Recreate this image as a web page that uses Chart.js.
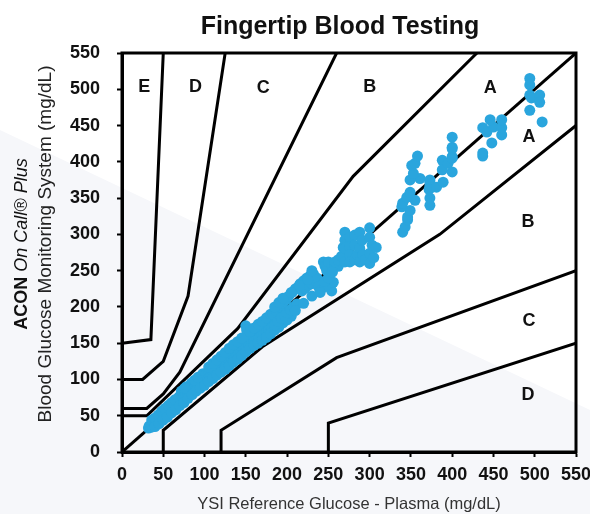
<!DOCTYPE html>
<html>
<head>
<meta charset="utf-8">
<script src="https://cdn.jsdelivr.net/npm/chart.js@4.4.1/dist/chart.umd.min.js"></script>
<style>
  body { margin: 0; background: #fff; }
  #wrap { width: 590px; height: 514px; position: relative; }
</style>
</head>
<body>
<div id="wrap"><canvas id="grid"></canvas></div>
<script>
// tick labels
const ticks = [0, 50, 100, 150, 200, 250, 300, 350, 400, 450, 500, 550];

// zone boundaries (reference, meter) in mg/dL
const identity = [[0, 0], [550, 550]];
const aUpper = [[0, 50], [30, 50], [140, 170], [280, 380], [430, 550]];
const aLower = [[50, 0], [50, 30], [170, 145], [385, 300], [550, 450]];
const bUpper = [[0, 60], [30, 60], [50, 80], [70, 110], [260, 550]];
const bLower = [[120, 0], [120, 30], [260, 130], [550, 250]];
const cUpper = [[0, 100], [25, 100], [50, 125], [80, 215], [125, 550]];
const cLower = [[250, 0], [250, 40], [550, 150]];
const dUpper = [[0, 150], [35, 155], [50, 550]];

// zone letters
const zoneNames = ['E', 'D', 'C', 'B', 'A', 'A', 'B', 'C', 'D'];
const zoneSpots = [[27, 503], [89, 503], [171, 502], [300, 503], [446, 502], [493, 434], [492, 317], [493, 180], [492, 79]];

// measured pairs: YSI reference, meter reading
const readings = [
  [32,33],[33,36],[35,34],[36,38],[37,35],[38,41],[40,39],[41,43],[42,40],[44,46],
  [45,43],[46,49],[48,46],[49,52],[50,49],[52,55],[53,51],[54,57],[56,54],[57,60],
  [58,56],[60,63],[61,59],[62,66],[64,62],[65,69],[66,65],[67,72],[68,67],[69,76],
  [70,71],[72,79],[72,84],[73,74],[74,82],[75,77],[76,84],[77,79],[78,90],[79,86],
  [80,81],[81,88],[82,83],[84,90],[84,95],[85,85],[86,92],[87,87],[89,95],[90,89],
  [91,97],[92,92],[94,100],[95,94],[96,102],[97,96],[99,105],[100,98],
  [36,44],[40,47],[44,51],[48,56],[52,60],[56,64],[60,68],[64,72],[76,88],[88,99],
  [92,103],[98,108],[40,35],[45,39],[50,44],[55,48],[60,54],[65,58],[70,64],[75,68],
  [80,74],[85,79],[90,84],[95,88],[100,92],
  [102,108],[104,100],[105,112],[107,103],[108,115],[110,106],[111,118],[113,109],
  [114,121],[116,112],[117,124],[119,115],[120,126],[121,117],[123,129],[124,120],
  [126,132],[127,123],[129,134],[130,125],[131,137],[133,128],[134,140],[136,131],
  [137,142],[139,133],[140,145],[141,136],[143,148],[144,138],[146,150],[147,141],
  [149,153],[150,174],[151,168],[150,144],[152,156],[154,147],[155,159],[157,150],
  [158,162],[160,152],[161,165],[163,155],[164,168],[166,157],[167,170],[169,160],
  [170,173],[172,162],[173,176],[175,165],[176,178],[178,168],[180,181],[181,170],
  [105,117],[110,122],[115,127],[120,132],[125,137],[130,143],[135,148],[140,152],
  [145,157],[155,166],[160,171],[165,176],[170,180],[175,185],[180,190],
  [105,97],[110,101],[115,106],[120,110],[125,114],[130,119],[135,124],[140,128],
  [145,133],[150,138],[155,143],[160,147],[165,150],[170,154],[175,158],[180,163],
  [185,168],[190,172],[195,178],[200,182],[205,187],
  [183,190],[185,175],[187,195],[189,180],[191,200],[193,185],[195,205],[197,188],
  [199,210],[200,192],[202,215],[204,196],[206,220],[208,200],[210,225],[212,204],
  [214,228],[216,232],[218,222],[220,236],[222,226],[224,240],[226,230],[228,243],
  [230,232],[232,245],[234,236],[236,240],[238,228],[240,222],[244,262],[246,256],
  [248,250],[250,262],[252,228],[254,222],[256,234],[246,228],[258,258],[262,256],
  [185,200],[190,206],[195,212],[205,220],[215,230],[225,238],[230,250],
  [210,195],[220,205],[230,215],[240,220],[245,235],[250,240],[255,248],[258,262],[262,265],
  [266,270],[268,282],[270,303],[270,292],[270,281],[270,262],[276,296],[276,283],
  [276,272],[276,262],[282,299],[282,285],[282,265],[285,272],[288,303],[288,281],
  [288,262],[291,292],[292,272],[295,265],[300,309],[300,296],[300,274],[300,260],
  [303,285],[305,268],[308,282],
  [340,303],[343,310],[346,320],[346,324],[349,333],[339,338],[340,343],[355,347],
  [345,351],[349,358],[361,377],[349,375],[353,384],[351,395],[355,398],[358,408],
  [373,372],[373,367],[373,375],[372,362],[373,350],[373,340],[381,365],
  [388,402],[389,372],[388,389],[395,398],[400,386],[400,407],[400,420],[400,434],
  [400,418],[400,405],
  [437,408],[437,412],[448,426],[460,437],[437,447],[442,441],[450,448],[460,447],
  [446,458],[460,458],
  [494,515],[494,506],[494,492],[496,488],[506,492],[506,482],[494,471],[509,455]
];

const pts = arr => arr.map(p => ({ x: p[0], y: p[1] }));

function zoneLine(arr) {
  return {
    data: pts(arr),
    showLine: true,
    borderColor: '#000',
    borderWidth: 3,
    pointRadius: 0,
    fill: false
  };
}

const paintBack = {
  id: 'paintBack',
  beforeDraw(chart) {
    const c = chart.ctx;
    c.save();
    c.fillStyle = '#ffffff';
    c.fillRect(0, 0, chart.width, chart.height);
    c.fillStyle = '#f6f7fa';
    c.beginPath();
    c.moveTo(0, 130);
    c.lineTo(590, 410);
    c.lineTo(590, 514);
    c.lineTo(0, 514);
    c.closePath();
    c.fill();
    c.restore();
  }
};

const extras = {
  id: 'extras',
  afterDraw(chart) {
    const c = chart.ctx;
    const a = chart.chartArea;
    const xs = chart.scales.x, ys = chart.scales.y;
    c.save();
    // frame
    c.strokeStyle = '#000';
    c.lineWidth = 3;
    c.strokeRect(a.left, a.top, a.right - a.left, a.bottom - a.top);

    // zone letters
    c.fillStyle = '#111';
    c.font = 'bold 18px "Liberation Sans", Arial, sans-serif';
    c.textAlign = 'center';
    c.textBaseline = 'middle';
    zoneNames.forEach((n, i) => {
      c.fillText(n, xs.getPixelForValue(zoneSpots[i][0]), ys.getPixelForValue(zoneSpots[i][1]));
    });

    // title
    c.font = 'bold 25px "Liberation Sans", Arial, sans-serif';
    c.fillText('Fingertip Blood Testing', 340, 27);

    // y title, two lines
    c.translate(22, 244);
    c.rotate(-Math.PI / 2);
    const boldPart = 'ACON ';
    const italPart = 'On Call\u00AE Plus';
    c.font = 'bold 18px "Liberation Sans", Arial, sans-serif';
    const w1 = c.measureText(boldPart).width;
    c.font = 'italic 18px "Liberation Sans", Arial, sans-serif';
    const w2 = c.measureText(italPart).width;
    c.textAlign = 'left';
    c.font = 'bold 18px "Liberation Sans", Arial, sans-serif';
    c.fillText(boldPart, -(w1 + w2) / 2, 0);
    c.font = 'italic 18px "Liberation Sans", Arial, sans-serif';
    c.fillText(italPart, -(w1 + w2) / 2 + w1, 0);
    c.textAlign = 'center';
    c.font = '19px "Liberation Sans", Arial, sans-serif';
    c.fillStyle = '#222';
    c.fillText('Blood Glucose Monitoring System (mg/dL)', 0, 24);
    c.restore();
  }
};

new Chart(document.getElementById('grid'), {
  type: 'scatter',
  data: {
    datasets: [
      // readings first so they are painted over the zone lines
      {
        data: pts(readings),
        backgroundColor: '#2aa5dd',
        borderWidth: 0,
        pointRadius: 5.5,
        pointHoverRadius: 5.5
      },
      zoneLine(identity),
      zoneLine(aUpper),
      zoneLine(aLower),
      zoneLine(bUpper),
      zoneLine(bLower),
      zoneLine(cUpper),
      zoneLine(cLower),
      zoneLine(dUpper)
    ]
  },
  options: {
    responsive: true,
    maintainAspectRatio: false,
    animation: false,
    layout: { padding: { top: 53, left: 0, right: 14, bottom: 0 } },
    plugins: {
      legend: { display: false },
      tooltip: { enabled: false }
    },
    scales: {
      x: {
        type: 'linear',
        min: 0,
        max: 550,
        afterBuildTicks: s => { s.ticks = ticks.map(v => ({ value: v })); },
        afterFit: s => { s.height = 62; s.paddingLeft = 0; s.paddingRight = 0; },
        border: { display: true, color: '#000', width: 3 },
        grid: { drawOnChartArea: false, drawTicks: true, tickLength: 5, tickWidth: 2, tickColor: '#000' },
        ticks: { color: '#111', padding: 7, font: { family: '"Liberation Sans", Arial', size: 18, weight: 'bold' } },
        title: {
          display: true,
          text: 'YSI Reference Glucose - Plasma (mg/dL)',
          color: '#333',
          padding: { top: 0, bottom: 0 },
          font: { family: '"Liberation Sans", Arial', size: 16.5 }
        }
      },
      y: {
        type: 'linear',
        min: 0,
        max: 550,
        afterBuildTicks: s => { s.ticks = ticks.map(v => ({ value: v })); },
        afterFit: s => { s.width = 122; s.paddingTop = 0; s.paddingBottom = 0; },
        border: { display: true, color: '#000', width: 3 },
        grid: { drawOnChartArea: false, drawTicks: true, tickLength: 5, tickWidth: 2, tickColor: '#000' },
        ticks: { color: '#111', padding: 17, font: { family: '"Liberation Sans", Arial', size: 18, weight: 'bold' } }
      }
    }
  },
  plugins: [paintBack, extras]
});
</script>
</body>
</html>
